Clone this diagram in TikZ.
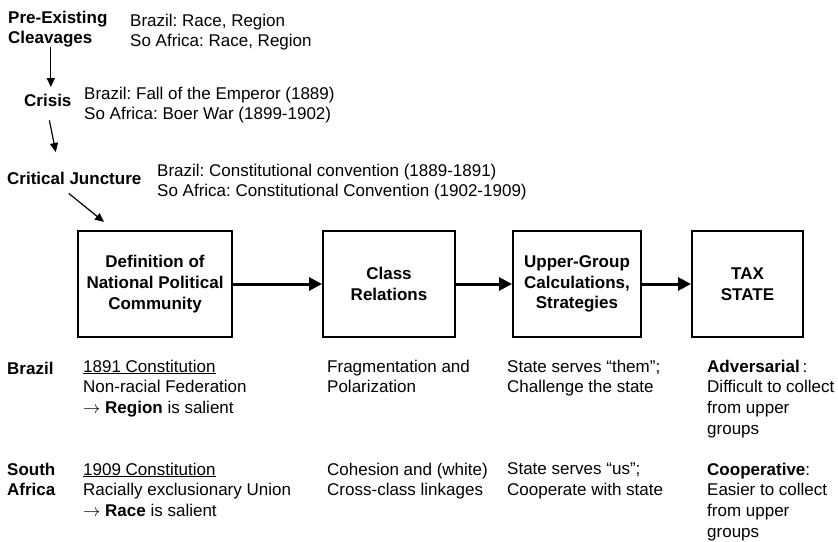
\documentclass[tikz,border=0pt]{standalone}
\usepackage{fontspec}
\setmainfont{Liberation Sans}
\usetikzlibrary{arrows.meta,positioning}

\begin{document}
\begin{tikzpicture}[x=1pt,y=-1pt,
  txt/.style={anchor=north west,yshift=14.49pt,inner sep=0pt,align=left,
    font=\fontsize{17}{20.7}\selectfont\frenchspacing,execute at begin node=\strut},
  hdr/.style={txt,font=\fontsize{17}{20.7}\selectfont\bfseries},
  stage/.style={draw,line width=2pt,minimum height=106pt,align=center,inner sep=0pt,font=\fontsize{17}{20.7}\selectfont\bfseries},
  flow/.style={line width=3pt,-{Triangle[length=13pt,width=13pt]}},
  lead/.style={line width=1.2pt,-{Triangle[length=9pt,width=8pt]}}]
\useasboundingbox (0,0) rectangle (838,541);
\node[hdr] (pre) at (8,25) {Pre-Existing\\Cleavages};
\node[txt] (preinfo) at (130,28) {Brazil: Race, Region\\So Africa: Race, Region};
\node[hdr] (crisis) at (24,106) {Crisis};
\node[txt] (crisisinfo) at (84,101) {Brazil: Fall of the Emperor (1889)\\So Africa: Boer War (1899-1902)};
\node[hdr] (crit) at (7,184) {Critical Juncture};
\node[txt] (critinfo) at (157,178) {Brazil: Constitutional convention (1889-1891)\\So Africa: Constitutional Convention (1902-1909)};
\node[stage,minimum width=154pt] (def) at (155,284) {Definition of\\National Political\\Community};
\node[stage,minimum width=132pt] (class) at (389,284) {Class\\Relations};
\node[stage,minimum width=128pt] (calc) at (577,284) {Upper-Group\\Calculations,\\Strategies};
\node[stage,minimum width=111pt] (tax) at (747.5,284) {TAX\\STATE};
\draw[lead,shorten <=-3pt,shorten >=4.5pt] ([xshift=3pt]pre.south -| crisis.north) -- ([xshift=3pt]crisis.north);
\draw[lead,shorten <=7.9pt,shorten >=17.8pt] (crisis.south) -- ([xshift=-15pt]crit.north);
\draw[lead,shorten <=4.5pt,shorten >=12.8pt] ([xshift=-9pt]crit.south) -- ([xshift=37pt]def.north west);
\draw[flow] (def) -- (class);
\draw[flow] (class) -- (calc);
\draw[flow] (calc) -- (tax);
\node[hdr] (br) at (7,374) {Brazil};
\node[txt] (brdef) at (83,374) {\underline{1891 Constitution}\\Non-racial Federation\\$\rightarrow$ \textbf{Region} is salient};
\node[txt] (brclass) at (327,374) {Fragmentation and\\Polarization};
\node[txt] (brcalc) at (507,374) {State serves “them”;\\Challenge the state};
\node[txt] (brtax) at (707,374) {\textbf{Adversarial}\,:\\Difficult to collect\\from upper\\groups};
\node[hdr] (sa) at (7,477) {South\\Africa};
\node[txt] (sadef) at (83,477) {\underline{1909 Constitution}\\Racially exclusionary Union\\$\rightarrow$ \textbf{Race} is salient};
\node[txt] (saclass) at (327,477) {Cohesion and (white)\\Cross-class linkages};
\node[txt] (sacalc) at (507,477) {State serves “us”;\\Cooperate with state};
\node[txt] (satax) at (707,477) {\textbf{Cooperative}:\\Easier to collect\\from upper\\groups};
\end{tikzpicture}
\end{document}
